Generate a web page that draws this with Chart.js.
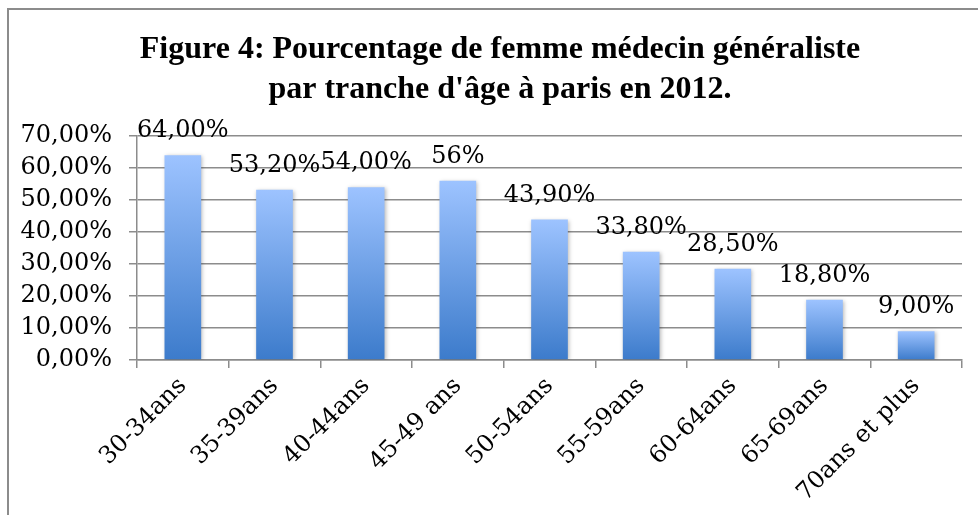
<!DOCTYPE html>
<html>
<head>
<meta charset="utf-8">
<script src="https://cdn.jsdelivr.net/npm/chart.js@4"></script>
<style>
  html, body { margin: 0; padding: 0; background: #fff; }
  #wrap { position: relative; width: 978px; height: 515px; overflow: hidden; }
  #frame { position: absolute; left: 7px; top: 8px; width: 1200px; height: 800px;
           border-left: 2px solid #8c8c8c; border-top: 2px solid #8c8c8c; }
  canvas { position: absolute; left: 0; top: 0; }
</style>
</head>
<body>
<div id="wrap">
  <div id="frame"></div>
  <canvas id="chart" width="978" height="515"></canvas>
</div>
<script>
// Données du graphique
const categories = ['30-34ans', '35-39ans', '40-44ans', '45-49 ans', '50-54ans', '55-59ans', '60-64ans', '65-69ans', '70ans et plus'];
const pourcentages = [64.0, 53.2, 54.0, 56.0, 43.9, 33.8, 28.5, 18.8, 9.0];
const etiquettes = ['64,00%', '53,20%', '54,00%', '56%', '43,90%', '33,80%', '28,50%', '18,80%', '9,00%'];
const yTicks = [0, 10, 20, 30, 40, 50, 60, 70];
const titre = ['Figure 4: Pourcentage de femme médecin généraliste', "par tranche d'âge à paris en 2012."];

const serif = "'DejaVu Serif', serif";

// Dégradé vertical pour chaque barre
function barGradient(context) {
    const chart = context.chart;
    const y = chart.scales.y;
    if (!chart.chartArea || !y) return '#5b8fd9';
    const top = y.getPixelForValue(context.raw);
    const base = y.getPixelForValue(0);
    const g = chart.ctx.createLinearGradient(0, top, 0, base);
    g.addColorStop(0, '#9dc3ff');
    g.addColorStop(1, '#3c7bcb');
    return g;
}

// Ombre légère sous les barres
const barShadow = {
    id: 'barShadow',
    beforeDatasetsDraw(chart) {
        const ctx = chart.ctx;
        ctx.save();
        ctx.shadowColor = 'rgba(0,0,0,0.28)';
        ctx.shadowBlur = 4;
        ctx.shadowOffsetX = 1;
        ctx.shadowOffsetY = 1;
    },
    afterDatasetsDraw(chart) {
        chart.ctx.restore();
    }
};

// Titre sur deux lignes
const titrePlugin = {
    id: 'titrePlugin',
    afterDraw(chart) {
        const ctx = chart.ctx;
        ctx.save();
        ctx.font = "bold 32px 'Liberation Serif', serif";
        ctx.fillStyle = '#000';
        ctx.textAlign = 'center';
        ctx.textBaseline = 'alphabetic';
        ctx.fillText(titre[0], 500, 58);
        ctx.fillText(titre[1], 500, 98);
        ctx.restore();
    }
};

// Étiquettes de valeur au-dessus des barres
const valueLabels = {
    id: 'valueLabels',
    afterDraw(chart) {
        const ctx = chart.ctx;
        const meta = chart.getDatasetMeta(0);
        ctx.save();
        ctx.font = '24px ' + serif;
        ctx.fillStyle = '#000';
        ctx.textAlign = 'center';
        ctx.textBaseline = 'alphabetic';
        meta.data.forEach((bar, i) => {
            ctx.fillText(etiquettes[i], bar.x, bar.y - 18);
        });
        ctx.restore();
    }
};

const ctx = document.getElementById('chart').getContext('2d');
new Chart(ctx, {
    type: 'bar',
    data: {
        labels: categories,
        datasets: [{
            data: pourcentages,
            backgroundColor: barGradient,
            borderWidth: 0,
            barPercentage: 0.4,
            categoryPercentage: 1
        }]
    },
    options: {
        responsive: false,
        animation: false,
        layout: { padding: { left: 10, right: 16, top: 136, bottom: 0 } },
        plugins: {
            legend: { display: false },
            tooltip: { enabled: false },
            title: { display: false }
        },
        scales: {
            y: {
                min: 0,
                max: 70,
                afterFit(scale) { scale.width = 127; },
                afterBuildTicks(scale) { scale.ticks = yTicks.map(v => ({ value: v })); },
                ticks: {
                    color: '#000',
                    padding: 17,
                    font: { family: serif, size: 24 },
                    callback: v => v.toFixed(2).replace('.', ',') + '%'
                },
                grid: { color: '#8c8c8c', lineWidth: 1.5, tickLength: 8 },
                border: { color: '#8c8c8c', width: 1.5 }
            },
            x: {
                afterFit(scale) { scale.height = 155; },
                ticks: {
                    color: '#000',
                    minRotation: 45,
                    maxRotation: 45,
                    padding: 4,
                    font: { family: serif, size: 24 }
                },
                grid: { drawOnChartArea: false, color: '#8c8c8c', lineWidth: 1.5, tickLength: 8, offset: true },
                border: { color: '#8c8c8c', width: 1.5 }
            }
        }
    },
    plugins: [barShadow, valueLabels, titrePlugin]
});
</script>
</body>
</html>
